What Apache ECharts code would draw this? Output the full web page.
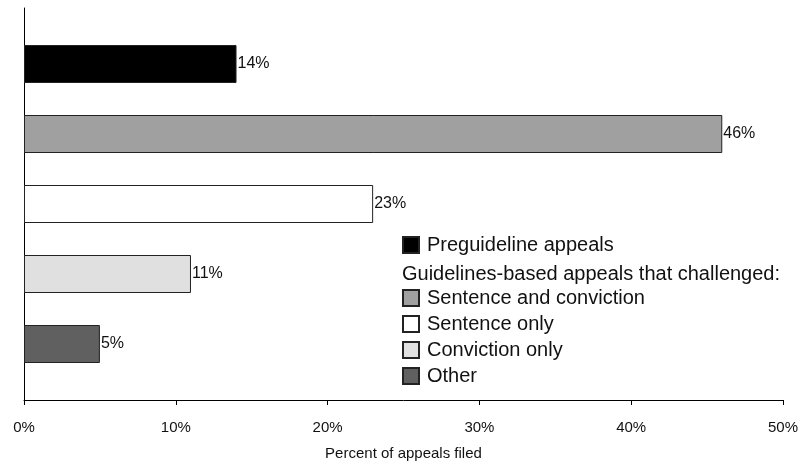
<!DOCTYPE html>
<html><head><meta charset="utf-8">
<script src="https://cdn.jsdelivr.net/npm/echarts@6/dist/echarts.min.js"></script>
<style>html,body{margin:0;padding:0;background:#fff}#c{width:811px;height:466px}</style>
</head><body><div id="c"></div>
<script>
const categories = ['Preguideline appeals', 'Sentence and conviction', 'Sentence only', 'Conviction only', 'Other'];
const values = [14, 46, 23, 11, 5];
const colors = ['#000000', '#a0a0a0', '#ffffff', '#e0e0e0', '#606060'];
const xTicks = [0, 10, 20, 30, 40, 50];
const legendHeading = 'Guidelines-based appeals that challenged:';

const chart = echarts.init(document.getElementById('c'));
const font = 'Liberation Sans, Arial, sans-serif';
const series = categories.map((name, i) => ({
  name: name,
  type: 'bar',
  xAxisIndex: 1,
  yAxisIndex: 1,
  stack: 'all',
  barWidth: 38,
  data: categories.map((c, j) => (j === i ? values[j] : '-')),
  itemStyle: { color: colors[i], borderColor: '#222', borderWidth: 1 },
  label: {
    show: true, position: 'right', distance: 1,
    formatter: '{c}%', color: '#111', fontSize: 16, fontFamily: font
  },
  emphasis: { disabled: true }
}));

const legendText = { color: '#111', fontSize: 20, lineHeight: 20, fontFamily: font, padding: [0, 0, 0, 3] };

chart.setOption({
  animation: false,
  textStyle: { fontFamily: font },
  grid: [
    { left: 24, right: 28, top: 8, bottom: 64 },
    { left: 24, right: 28, top: 29, bottom: 87 }
  ],
  xAxis: [
    {
      gridIndex: 0, type: 'value', min: xTicks[0], max: xTicks[xTicks.length - 1], interval: 10,
      axisLine: { show: true, lineStyle: { color: '#000', width: 1 } },
      axisTick: { show: true, length: 5, lineStyle: { color: '#000' } },
      axisLabel: { formatter: '{value}%', color: '#111', fontSize: 15, margin: 20, fontFamily: font },
      splitLine: { show: false },
      name: 'Percent of appeals filed', nameLocation: 'middle', nameGap: 46,
      nameTextStyle: { color: '#111', fontSize: 15, fontFamily: font }
    },
    {
      gridIndex: 1, type: 'value', min: 0, max: 50, show: false
    }
  ],
  yAxis: [
    {
      gridIndex: 0, type: 'value', min: 0, max: 1,
      axisLine: { show: true, lineStyle: { color: '#000', width: 1 } },
      axisTick: { show: false }, axisLabel: { show: false }, splitLine: { show: false }
    },
    {
      gridIndex: 1, type: 'category', data: categories, inverse: true, show: false
    }
  ],
  legend: [
    {
      data: [categories[0]], left: 397, top: 230, orient: 'vertical', icon: 'rect',
      itemWidth: 16, itemHeight: 16, itemGap: 6,
      textStyle: legendText, selectedMode: false
    },
    {
      data: categories.slice(1), left: 397, top: 283, orient: 'vertical', icon: 'rect',
      itemWidth: 16, itemHeight: 16, itemGap: 6,
      textStyle: legendText, selectedMode: false
    }
  ],
  graphic: [
    {
      type: 'text', left: 402, top: 264,
      style: { text: legendHeading, fill: '#111', fontSize: 20, fontFamily: font }
    }
  ],
  series: series
});
</script></body></html>
